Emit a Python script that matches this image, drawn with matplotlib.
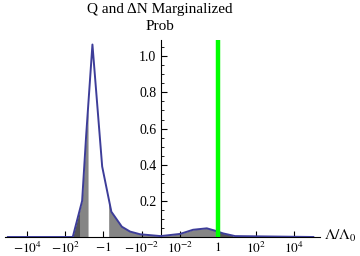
import numpy as np
import matplotlib
matplotlib.use("Agg")
import matplotlib.pyplot as plt

plt.rcParams['font.family'] = ['Liberation Serif', 'DejaVu Serif']
plt.rcParams['mathtext.fontset'] = 'stix'

# curve: u = sign(x)*(log10|x| + 3)  (symmetric log coordinate), probability
u_vals = [-8.0, -4.6, -4.11, -3.90, -3.57, -3.06, -2.58, -2.03, -1.60, -1.07, 0.0,
          1.02, 1.70, 2.42, 2.85, 3.27, 3.9, 8.0]
prob = [0.0, 0.0, 0.20, 0.56, 1.065, 0.39, 0.14, 0.057, 0.03, 0.015, 0.005,
        0.017, 0.04, 0.048, 0.035, 0.02, 0.005, 0.0]

# shaded credible regions (u intervals)
dark_regions = [(-4.6, -4.21), (3.0, 3.8)]
mid_regions = [(-4.21, -3.80), (-2.72, 3.0)]

tick_pos = [-7, -5, -3, -1, 1, 3, 5, 7]
tick_labels = [r'$-10^{4}$', r'$-10^{2}$', r'$-1$', r'$-10^{-2}$',
               r'$10^{-2}$', r'$1$', r'$10^{2}$', r'$10^{4}$']
green_u = 3.0  # Lambda/Lambda0 = 1

fig = plt.figure(figsize=(3.6, 2.56), dpi=100)
ax = fig.add_axes([5/360, 19/256, 315/360, 197/256])

u = np.array(u_vals)
p = np.array(prob)
for regions, col in [(dark_regions, '#555555'), (mid_regions, '#858585')]:
    for a, b in regions:
        xs = np.linspace(a, b, 200)
        ax.fill_between(xs, 0, np.interp(xs, u, p), color=col, lw=0, zorder=1)

ax.plot(u, p, color='#3d3d99', lw=1.4, zorder=3)
ax.plot([green_u, green_u], [0, 1.09], color='#00ff00', lw=3.2, zorder=4,
        solid_capstyle='butt')

ax.set_xlim(-8.15, 8.35)
ax.set_ylim(0, 1.09)
ax.spines['top'].set_visible(False)
ax.spines['right'].set_visible(False)
ax.spines['left'].set_position(('data', 0))
for s in ['left', 'bottom']:
    ax.spines[s].set_linewidth(0.8)

ax.set_xticks(tick_pos)
ax.set_xticklabels(tick_labels, fontsize=9.5)
ax.set_yticks([0.2, 0.4, 0.6, 0.8, 1.0])
ax.set_yticklabels(['0.2', '0.4', '0.6', '0.8', '1.0'], fontsize=10)
ax.set_yticks(np.arange(0.05, 1.09, 0.05), minor=True)
ax.tick_params(axis='x', direction='in', length=4, width=0.8, pad=3)
ax.tick_params(axis='y', which='major', direction='in', length=4, width=0.8, pad=3)
ax.tick_params(axis='y', which='minor', direction='in', length=2, width=0.6)
ax.patch.set_alpha(0)

fig.text(160/360, 1 - 9/256, 'Q and ΔN Marginalized', ha='center', va='center', fontsize=11)
fig.text(160/360, 1 - 27/256, 'Prob', ha='center', va='center', fontsize=11)
fig.text(357/360, 20/256, r'$\Lambda/\Lambda_0$', ha='right', va='center', fontsize=11)

fig.savefig('out.png', dpi=100)
